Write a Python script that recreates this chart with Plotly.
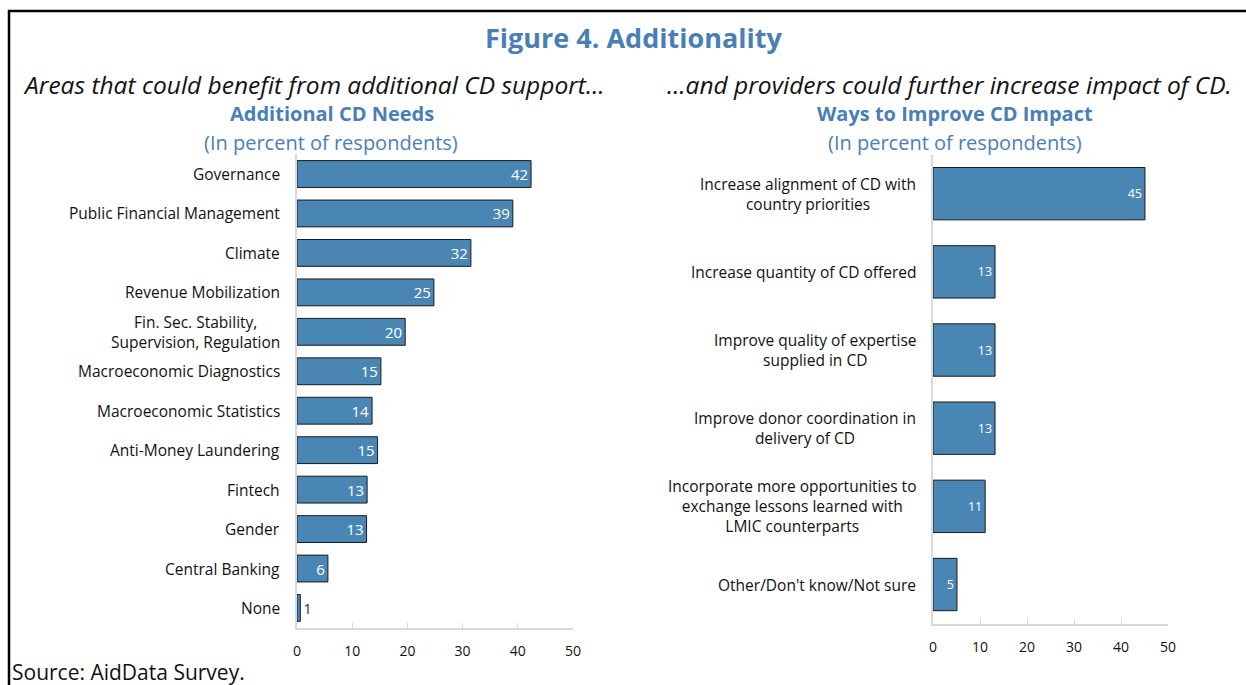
import plotly.graph_objects as go

# ── Data ─────────────────────────────────────────────────────────────────────

needs_labels = [
    "Governance",
    "Public Financial Management",
    "Climate",
    "Revenue Mobilization",
    "Fin. Sec. Stability,<br>Supervision, Regulation",
    "Macroeconomic Diagnostics",
    "Macroeconomic Statistics",
    "Anti-Money Laundering",
    "Fintech",
    "Gender",
    "Central Banking",
    "None",
]
needs_values = [42.4, 39.1, 31.5, 24.8, 19.6, 15.2, 13.6, 14.6, 12.7, 12.6, 5.6, 0.6]

impact_labels = [
    "Increase alignment of CD with<br>country priorities",
    "Increase quantity of CD offered",
    "Improve quality of expertise<br>supplied in CD",
    "Improve donor coordination in<br>delivery of CD",
    "Incorporate more opportunities to<br>exchange lessons learned with<br>LMIC counterparts",
    "Other/Don't know/Not sure",
]
impact_values = [45.1, 13.2, 13.2, 13.2, 11.1, 5.1]

x_ticks = [0, 10, 20, 30, 40, 50]

# ── Styling ──────────────────────────────────────────────────────────────────

W, H = 1246, 685
FONT = "Open Sans"
BLUE_TXT = "#4a7fb5"
BAR = "#4a86b4"
GRID = "#d9d9d9"


def px_x(v):
    return v / W


def px_y(v):
    return 1 - v / H


fig = go.Figure()

fig.add_trace(go.Bar(
    x=needs_values, y=needs_labels, orientation="h",
    marker=dict(color=BAR, line=dict(color="#1a1a1a", width=1)),
    width=0.68,
    texttemplate="%{x:.0f}", textposition="auto", textangle=0,
    insidetextfont=dict(color="white", size=15, family=FONT),
    outsidetextfont=dict(color="#333333", size=15, family=FONT),
    cliponaxis=False,
    xaxis="x", yaxis="y", hoverinfo="skip",
))

fig.add_trace(go.Bar(
    x=impact_values, y=impact_labels, orientation="h",
    marker=dict(color=BAR, line=dict(color="#1a1a1a", width=1)),
    width=0.67,
    texttemplate="%{x:.0f}", textposition="auto", textangle=0,
    insidetextfont=dict(color="white", size=12.5, family=FONT),
    outsidetextfont=dict(color="#333333", size=12.5, family=FONT),
    cliponaxis=False,
    xaxis="x2", yaxis="y2", hoverinfo="skip",
))

xaxis_common = dict(
    range=[0, 50], tickvals=x_ticks, showgrid=False, zeroline=False,
    showline=True, linecolor=GRID, linewidth=1.5,
    ticks="inside", ticklen=5, tickcolor=GRID, tickwidth=1,
    tickfont=dict(size=14, color="#111111", family=FONT),
    ticklabelstandoff=10,
    fixedrange=True,
)
yaxis_common = dict(
    autorange="reversed", showticklabels=False, showgrid=False,
    zeroline=False, showline=True, linecolor=GRID, linewidth=1.5,
    ticks="", fixedrange=True,
)

fig.update_layout(
    width=W, height=H,
    margin=dict(l=0, r=0, t=0, b=0, autoexpand=False),
    plot_bgcolor="white", paper_bgcolor="white",
    showlegend=False,
    font=dict(family=FONT, color="#111111"),
    xaxis=dict(domain=[px_x(297), px_x(573)], anchor="y", **xaxis_common),
    yaxis=dict(domain=[px_y(627.7), px_y(154.3)], anchor="x", **yaxis_common),
    xaxis2=dict(domain=[px_x(933), px_x(1168)], anchor="y2", **xaxis_common),
    yaxis2=dict(domain=[px_y(623.6), px_y(154.6)], anchor="x2", **yaxis_common),
)

annotations = []

# category labels, centred blocks right-aligned to the axis
for lab in needs_labels:
    annotations.append(dict(
        x=px_x(282), xref="paper", y=lab, yref="y",
        text=lab, showarrow=False, xanchor="right", yanchor="middle",
        align="center", font=dict(size=15.5, color="#111111", family=FONT),
    ))
for lab in impact_labels:
    annotations.append(dict(
        x=px_x(918), xref="paper", y=lab, yref="y2",
        text=lab, showarrow=False, xanchor="right", yanchor="middle",
        align="center", font=dict(size=15.5, color="#111111", family=FONT),
    ))

# titles and headers
annotations += [
    dict(x=px_x(633), y=px_y(37), text="<b>Figure 4. Additionality</b>",
         font=dict(size=27, color=BLUE_TXT, family=FONT)),
    dict(x=px_x(21), y=px_y(84), xanchor="left",
         text="<i>Areas that could benefit from additional CD support…</i>",
         font=dict(size=24.5, color="#111111", family=FONT)),
    dict(x=px_x(1234), y=px_y(84), xanchor="right",
         text="<i>…and providers could further increase impact of CD.</i>",
         font=dict(size=24.5, color="#111111", family=FONT)),
    dict(x=px_x(332), y=px_y(114), text="<b>Additional CD Needs</b>",
         font=dict(size=20, color=BLUE_TXT, family=FONT)),
    dict(x=px_x(331), y=px_y(142), text="(In percent of respondents)",
         font=dict(size=20, color=BLUE_TXT, family=FONT)),
    dict(x=px_x(955), y=px_y(114), text="<b>Ways to Improve CD Impact</b>",
         font=dict(size=20, color=BLUE_TXT, family=FONT)),
    dict(x=px_x(955), y=px_y(142), text="(In percent of respondents)",
         font=dict(size=20, color=BLUE_TXT, family=FONT)),
    dict(x=px_x(10), y=px_y(672), xanchor="left", text="Source: AidData Survey.",
         font=dict(size=21, color="#111111", family=FONT)),
]
for a in annotations[-8:]:
    a.update(xref="paper", yref="paper", showarrow=False, yanchor="middle")
    a.setdefault("xanchor", "center")

fig.update_layout(annotations=annotations)

# frame around the figure (left and top edges)
fig.add_shape(
    type="path", xref="paper", yref="paper",
    path=f"M {px_x(9)},0 L {px_x(9)},{px_y(11)} L 1,{px_y(11)}",
    line=dict(color="black", width=2.5),
)

fig.write_html(
    "out.html",
    config={"displayModeBar": False},
    post_script="document.body.style.margin='0';document.body.style.overflow='hidden';",
)
